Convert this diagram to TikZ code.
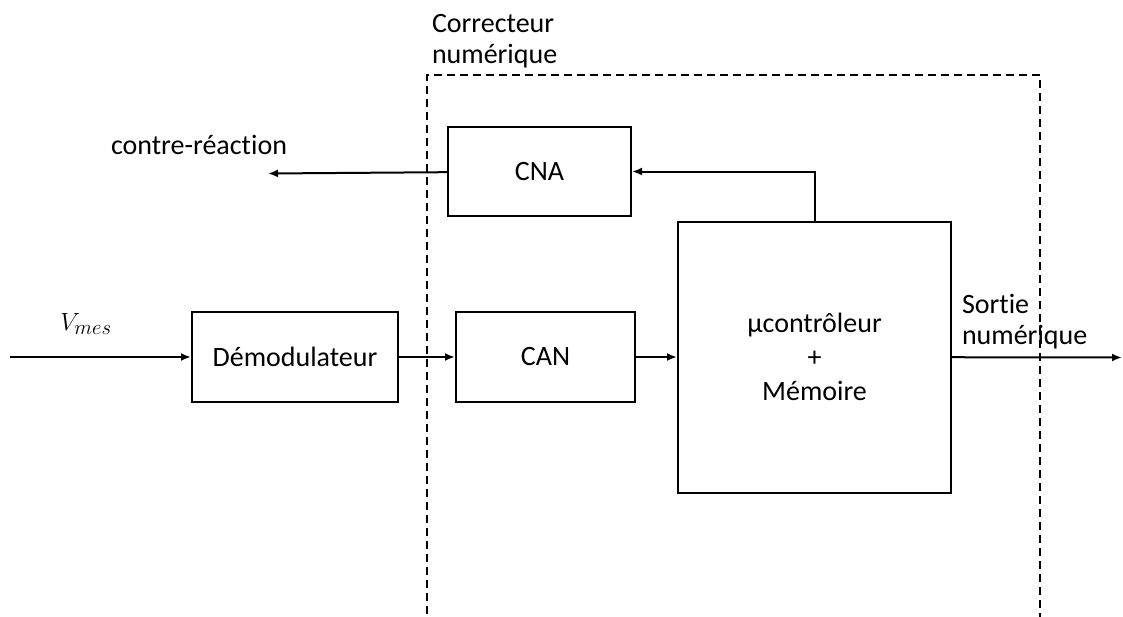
\documentclass[tikz,border=0pt]{standalone}
\usepackage{fontspec}
\setmainfont{Carlito}[Ligatures=CommonOff]
\usetikzlibrary{arrows.meta, positioning}

\begin{document}
\begin{tikzpicture}[
    x=1pt, y=-1pt,
    font=\fontsize{28}{31}\selectfont,
    line width=2pt,
    box/.style={
        draw,
        align=center,
        minimum width=#1,
        minimum height=90pt
    },
    box/.default=180pt,
    arrow/.style={
        -{Latex[length=10pt, width=8pt]}
    },
    frame/.style={
        draw,
        dash pattern=on 8pt off 5pt
    }
]

\useasboundingbox (0,0) rectangle (1123,616);

\node[box=206pt] (demod) at (295,357) {Démodulateur};

\node[box=179pt, right=56pt of demod] (can) {CAN};

\node[box=273pt, minimum height=271pt, right=41pt of can,
      font=\fontsize{28}{34}\selectfont] (mcu)
{µcontrôleur\\+\\Mémoire};

\node[box=183pt, minimum height=89pt, above=94pt of can, xshift=-6pt] (cna)
{CNA};

% labels
\node (vmes) at (86,324) {$V_{mes}$};
\node[anchor=west, inner sep=0] (fblabel) at (110,145) {contre-réaction};
\node[anchor=west, align=left, inner sep=0] (corrlabel) at (431,41)
{Correcteur\\numérique};
\node[anchor=west, align=left, inner sep=0] (outlabel) at (961,322)
{Sortie\\numérique};

\coordinate (in) at (10,357);
\coordinate (fb) at (268,173.5);
\coordinate (out) at (1122,357.5);

\draw[frame] (427,640) -- (427,75) -- (1040,75) -- (1040,640);

\draw[arrow] (in) -- (demod);
\draw[arrow] (demod) -- (can);
\draw[arrow] (can) -- (mcu);
\draw[arrow] (mcu.north) |- (cna.east);
\draw[arrow] (cna) -- (fb);
\draw[arrow] (mcu) -- (out);

\end{tikzpicture}
\end{document}
